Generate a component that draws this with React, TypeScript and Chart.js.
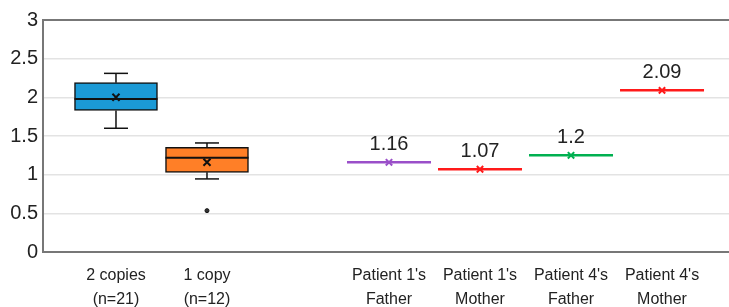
import React, { useEffect, useRef } from "react";
import { Chart, registerables } from "chart.js";
Chart.register(...registerables);

// Box-plot groups
const groupLabels = [["2 copies", "(n=21)"], ["1 copy", "(n=12)"]];
const groupPos = [1, 2];
const boxMin = [1.6, 0.945];
const boxQ1 = [1.83, 1.03];
const boxMedian = [1.98, 1.22];
const boxQ3 = [2.19, 1.355];
const boxMax = [2.31, 1.41];
const boxMean = [2.0, 1.16];
const boxOutliers = [[], [0.535]];
const boxColors = ["#1b9ad6", "#ff7f27"];

// Parent values
const parentLabels = [
  ["Patient 1's", "Father"],
  ["Patient 1's", "Mother"],
  ["Patient 4's", "Father"],
  ["Patient 4's", "Mother"],
];
const parentPos = [4, 5, 6, 7];
const parentValues = [1.16, 1.07, 1.25, 2.09];
const parentValueText = ["1.16", "1.07", "1.2", "2.09"];
const parentColors = ["#9a4fc9", "#ff1a1a", "#00b050", "#ff1a1a"];

const yTicks = [0, 0.5, 1, 1.5, 2, 2.5, 3];

const FONT = "'Liberation Sans', Arial, sans-serif";

export default function App() {
  const ref = useRef<HTMLCanvasElement>(null);
  useEffect(() => {
    const ctx = ref.current!;
    const tickMap: Record<number, string[]> = {};
    groupPos.forEach((p, i) => (tickMap[p] = groupLabels[i]));
    parentPos.forEach((p, i) => (tickMap[p] = parentLabels[i]));

    const whiskerData: any[] = [];
    groupPos.forEach((p, i) => {
      whiskerData.push({ x: p, y: boxQ3[i] }, { x: p, y: boxMax[i] }, { x: p, y: null });
      whiskerData.push({ x: p, y: boxQ1[i] }, { x: p, y: boxMin[i] }, { x: p, y: null });
    });
    const capData: any[] = [];
    groupPos.forEach((p, i) => {
      capData.push({ x: p, y: boxMax[i] }, { x: p, y: boxMin[i] });
    });
    const outlierData: any[] = [];
    groupPos.forEach((p, i) => boxOutliers[i].forEach((v) => outlierData.push({ x: p, y: v })));

    const valueLabelPlugin = {
      id: "valueLabels",
      afterDatasetsDraw(chart: any) {
        const c = chart.ctx;
        const xs = chart.scales.x;
        const ys = chart.scales.y;
        c.save();
        c.font = `20px ${FONT}`;
        c.fillStyle = "#222";
        c.textAlign = "center";
        c.textBaseline = "bottom";
        parentPos.forEach((p, i) => {
          c.fillText(parentValueText[i], xs.getPixelForValue(p), ys.getPixelForValue(parentValues[i]) - 8);
        });
        c.restore();
      },
    };

    const zeroPad = (s: any) => {
      s.paddingLeft = 0;
      s.paddingRight = 0;
      s.paddingTop = 0;
      s.paddingBottom = 0;
    };

    const chart = new Chart(ctx, {
      type: "scatter",
      data: {
        datasets: [
          {
            type: "bar",
            data: groupPos.map((p, i) => ({ x: p, y: [boxQ1[i], boxQ3[i]] })) as any,
            backgroundColor: boxColors,
            borderColor: "#111",
            borderWidth: 1.5,
            borderSkipped: false,
            barThickness: 83,
            order: 6,
          } as any,
          {
            type: "line",
            data: whiskerData,
            borderColor: "#111",
            borderWidth: 1.5,
            pointRadius: 0,
            spanGaps: false,
            order: 7,
          } as any,
          {
            data: capData,
            pointStyle: "line",
            pointRadius: 12,
            pointBorderColor: "#111",
            pointBorderWidth: 1.5,
            order: 4,
          } as any,
          {
            data: groupPos.map((p, i) => ({ x: p, y: boxMedian[i] })),
            pointStyle: "line",
            pointRadius: 41.5,
            pointBorderColor: "#111",
            pointBorderWidth: 2,
            order: 3,
          } as any,
          {
            data: groupPos.map((p, i) => ({ x: p, y: boxMean[i] })),
            pointStyle: "crossRot",
            pointRadius: 5,
            pointBorderColor: "#111",
            pointBorderWidth: 2,
            order: 2,
          } as any,
          {
            data: outlierData,
            pointStyle: "circle",
            pointRadius: 2,
            pointBackgroundColor: "#333",
            pointBorderColor: "#111",
            pointBorderWidth: 1,
            order: 2,
          } as any,
          {
            data: parentPos.map((p, i) => ({ x: p, y: parentValues[i] })),
            pointStyle: "line",
            pointRadius: 42,
            pointBorderColor: parentColors,
            pointBorderWidth: 2.5,
            order: 3,
          } as any,
          {
            data: parentPos.map((p, i) => ({ x: p, y: parentValues[i] })),
            pointStyle: "crossRot",
            pointRadius: 4.5,
            pointBorderColor: parentColors,
            pointBorderWidth: 2,
            order: 1,
          } as any,
        ],
      },
      options: {
        animation: false,
        responsive: false,
        events: [],
        layout: { padding: 0, autoPadding: false },
        plugins: { legend: { display: false }, tooltip: { enabled: false } },
        scales: {
          x: {
            type: "linear",
            offset: false,
            min: 0.198,
            max: 7.736,
            afterBuildTicks: (s: any) => {
              s.ticks = [...groupPos, ...parentPos].map((v) => ({ value: v }));
            },
            afterFit: (s: any) => {
              s.height = 55;
              zeroPad(s);
            },
            ticks: {
              autoSkip: false,
              maxRotation: 0,
              padding: 12,
              color: "#222",
              font: { family: FONT, size: 16, lineHeight: 1.5 },
              callback: (v: any) => tickMap[v] || "",
            },
            grid: { display: false, drawTicks: false, offset: false },
            border: { display: true, color: "#777", width: 2 },
          },
          x2: {
            type: "linear",
            position: "top",
            offset: false,
            min: 0.198,
            max: 7.736,
            afterFit: (s: any) => {
              s.height = 20;
              zeroPad(s);
            },
            ticks: { display: false },
            grid: { display: false, drawTicks: false },
            border: { display: true, color: "#777", width: 2 },
          },
          y: {
            min: 0,
            max: 3,
            afterBuildTicks: (s: any) => {
              s.ticks = yTicks.map((v) => ({ value: v }));
            },
            afterFit: (s: any) => {
              s.width = 43;
              zeroPad(s);
            },
            ticks: {
              padding: 5,
              color: "#222",
              font: { family: FONT, size: 20 },
              callback: (v: any) => String(v),
            },
            grid: { color: "#e3e3e3", lineWidth: 1.5, drawTicks: false },
            border: { display: true, color: "#777", width: 2 },
          },
        },
      },
      plugins: [valueLabelPlugin],
    } as any);
    return () => chart.destroy();
  }, []);
  return (
    <div style={{ position: "fixed", left: 0, top: 0, width: 729, height: 307, background: "#fff" }}>
      <canvas ref={ref} width={729} height={307} />
    </div>
  );
}
